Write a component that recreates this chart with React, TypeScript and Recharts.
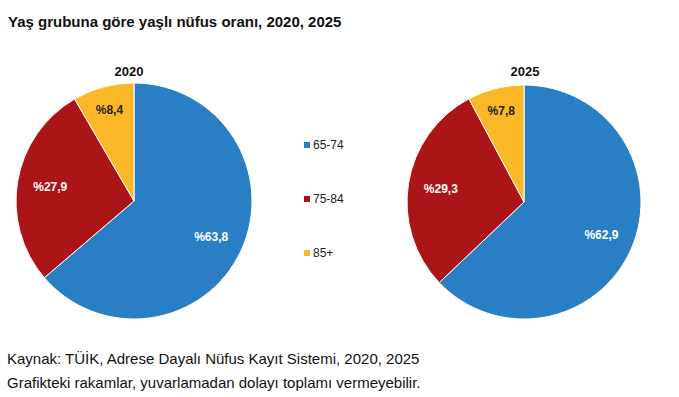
import { PieChart, Pie, Cell, Legend } from 'recharts';

const groups = ['65-74', '75-84', '85+'];
const share2020 = [63.8, 27.9, 8.4];
const share2025 = [62.9, 29.3, 7.8];
const years = ['2020', '2025'];

const COLORS = ['#2a7fc4', '#ab1518', '#fbb826'];
const LABEL_FILL = ['#ffffff', '#ffffff', '#222222'];
const RADIAN = Math.PI / 180;

const data2020 = groups.map((name, i) => ({ name, value: share2020[i] }));
const data2025 = groups.map((name, i) => ({ name, value: share2025[i] }));

const renderLabel = (props: any) => {
  const { cx, cy, midAngle, outerRadius, index, value } = props;
  const k = index === 2 ? 0.8 : 0.72;
  const r = outerRadius * k;
  const x = cx + r * Math.cos(-midAngle * RADIAN);
  const y = cy + r * Math.sin(-midAngle * RADIAN);
  return (
    <text
      x={x}
      y={y}
      fill={LABEL_FILL[index]}
      textAnchor="middle"
      dominantBaseline="central"
      fontSize={12}
      fontWeight="bold"
      fontFamily="'Liberation Sans', Arial, sans-serif"
    >
      {'%' + String(value).replace('.', ',')}
    </text>
  );
};

const LegendContent = () => (
  <div style={{ fontFamily: "'Liberation Sans', Arial, sans-serif", fontSize: 12, color: '#222' }}>
    {groups.map((g, i) => (
      <div key={g} style={{ display: 'flex', alignItems: 'center', height: 18, marginBottom: i < groups.length - 1 ? 36 : 0 }}>
        <span style={{ display: 'inline-block', width: 6, height: 6, background: COLORS[i], marginRight: 3 }} />
        <span>{g}</span>
      </div>
    ))}
  </div>
);

export default function App() {
  return (
    <div style={{ position: 'absolute', left: 0, top: 0, width: 679, height: 397, background: '#fff', fontFamily: "'Liberation Sans', Arial, sans-serif" }}>
      <div style={{ position: 'absolute', left: 8, top: 13, fontSize: 15, fontWeight: 'bold', color: '#111', whiteSpace: 'nowrap' }}>
        Yaş grubuna göre yaşlı nüfus oranı, 2020, 2025
      </div>
      <PieChart width={679} height={397} margin={{ top: 0, right: 0, bottom: 0, left: 0 }} style={{ position: 'absolute', left: 0, top: 0 }}>
        <text x={129} y={71} textAnchor="middle" dominantBaseline="central" fontSize={13} fontWeight="bold" fill="#111" fontFamily="'Liberation Sans', Arial, sans-serif">
          {years[0]}
        </text>
        <text x={525} y={71} textAnchor="middle" dominantBaseline="central" fontSize={13} fontWeight="bold" fill="#111" fontFamily="'Liberation Sans', Arial, sans-serif">
          {years[1]}
        </text>
        <Pie
          data={data2020}
          dataKey="value"
          nameKey="name"
          cx={134}
          cy={201}
          outerRadius={118}
          startAngle={90}
          endAngle={-270}
          stroke="#ffffff"
          strokeWidth={1}
          label={renderLabel}
          labelLine={false}
          isAnimationActive={false}
        >
          {data2020.map((d, i) => (
            <Cell key={d.name} fill={COLORS[i]} />
          ))}
        </Pie>
        <Pie
          data={data2025}
          dataKey="value"
          nameKey="name"
          cx={524}
          cy={202}
          outerRadius={117}
          startAngle={90}
          endAngle={-270}
          stroke="#ffffff"
          strokeWidth={1}
          label={renderLabel}
          labelLine={false}
          isAnimationActive={false}
        >
          {data2025.map((d, i) => (
            <Cell key={d.name} fill={COLORS[i]} />
          ))}
        </Pie>
        <Legend
          content={<LegendContent />}
          layout="vertical"
          wrapperStyle={{ position: 'absolute', left: 304, top: 136, width: 60 }}
        />
      </PieChart>
      <div style={{ position: 'absolute', left: 7, top: 347, fontSize: 15, color: '#111', lineHeight: '24px', whiteSpace: 'nowrap' }}>
        <div>Kaynak: TÜİK, Adrese Dayalı Nüfus Kayıt Sistemi, 2020, 2025</div>
        <div>Grafikteki rakamlar, yuvarlamadan dolayı toplamı vermeyebilir.</div>
      </div>
    </div>
  );
}
